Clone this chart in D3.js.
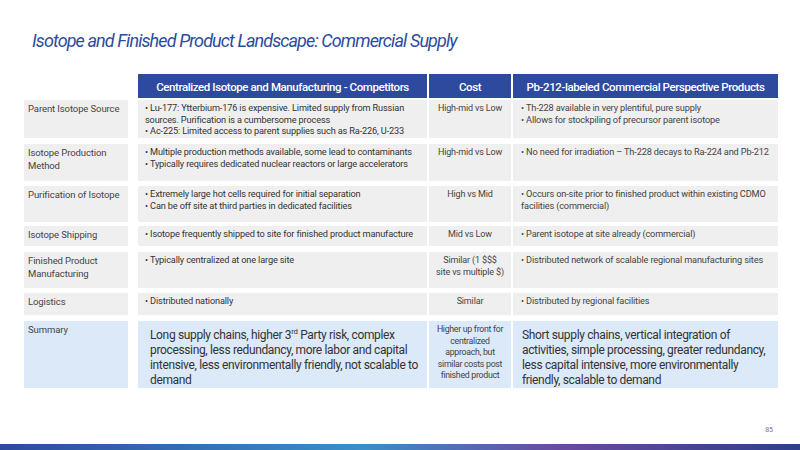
<!DOCTYPE html><html><head><meta charset="utf-8">
<script src="https://cdn.jsdelivr.net/npm/d3@7"></script>
<style>body{margin:0;background:#fff}svg{display:block}</style></head><body>
<script>
const title = "Isotope and Finished Product Landscape: Commercial Supply";
const headers = ["Centralized Isotope and Manufacturing - Competitors", "Cost", "Pb-212-labeled Commercial Perspective Products"];
const rowLabels = [["Parent Isotope Source"],["Isotope Production","Method"],["Purification of Isotope"],["Isotope Shipping"],["Finished Product","Manufacturing"],["Logistics"],["Summary"]];
const competitors = [
 ["• Lu-177: Ytterbium-176 is expensive. Limited supply from Russian","sources. Purification is a cumbersome process","• Ac-225: Limited access to parent supplies such as Ra-226, U-233"],
 ["• Multiple production methods available, some lead to contaminants","• Typically requires dedicated nuclear reactors or large accelerators"],
 ["• Extremely large hot cells required for initial separation","• Can be off site at third parties in dedicated facilities"],
 ["• Isotope frequently shipped to site for finished product manufacture"],
 ["• Typically centralized at one large site"],
 ["• Distributed nationally"],
 ["Long supply chains, higher 3^rd Party risk, complex","processing, less redundancy, more labor and capital","intensive, less environmentally friendly, not scalable to","demand"]];
const costs = [["High-mid vs Low"],["High-mid vs Low"],["High vs Mid"],["Mid vs Low"],["Similar (1 $$$","site vs multiple $)"],["Similar"],["Higher up front for","centralized","approach, but","similar costs post","finished product"]];
const pb212 = [
 ["• Th-228 available in very plentiful, pure supply","• Allows for stockpiling of precursor parent isotope"],
 ["• No need for irradiation – Th-228 decays to Ra-224 and Pb-212"],
 ["• Occurs on-site prior to finished product within existing CDMO","facilities (commercial)"],
 ["• Parent isotope at site already (commercial)"],
 ["• Distributed network of scalable regional manufacturing sites"],
 ["• Distributed by regional facilities"],
 ["Short supply chains, vertical integration of","activities, simple processing, greater redundancy,","less capital intensive, more environmentally","friendly, scalable to demand"]];
const rowTops=[100,144,186,226,252,293,321], rowBots=[138,181,222,246,288,315,388];

const svg=d3.select("body").append("svg").attr("width",800).attr("height",450);
const font="Roboto, Arial, sans-serif";
svg.append("text").attr("x",32).attr("y",47).text(title).attr("font-family",font).attr("font-style","italic")
 .attr("font-size",18).attr("fill","#2d4b9b").attr("letter-spacing",-0.9);
const cols=[{x:24,w:104},{x:138,w:289},{x:429,w:82},{x:513,w:265}];
headers.forEach((h,i)=>{const c=cols[i+1];
 svg.append("rect").attr("x",c.x).attr("y",74).attr("width",c.w).attr("height",24).attr("fill","#2e4a9e");
 svg.append("text").attr("x",c.x+c.w/2).attr("y",90.5).attr("text-anchor","middle").attr("fill","#fff")
  .attr("font-family",font).attr("font-size",11.5).attr("font-weight",500).attr("letter-spacing",-0.4).text(h);});
const y=d3.scaleLinear().domain([0,1]).range([0,1]);
function lines(g,arr,x,y0,lh,fs,anchor,color,ls){
 arr.forEach((l,j)=>{const t=g.append("text").attr("x",x).attr("y",y0+j*lh).attr("font-family",font).attr("font-size",fs)
  .attr("fill",color).attr("text-anchor",anchor).attr("letter-spacing",ls);
  const parts=l.split("^");
  if(parts.length>1){const [pre,rest]=parts;const sup=rest.slice(0,2);t.append("tspan").text(pre);
   t.append("tspan").text(sup).attr("font-size",fs*0.65).attr("dy",-fs*0.4);
   t.append("tspan").text(rest.slice(2)).attr("dy",fs*0.4);} else t.text(l);});
}
rowLabels.forEach((lab,i)=>{
 const s=i===6, top=y(rowTops[i]), h=rowBots[i]-rowTops[i];
 const fill=s?"#dce9f8":"#efefef";
 cols.forEach(c=>svg.append("rect").attr("x",c.x).attr("y",top).attr("width",c.w).attr("height",h).attr("fill",fill));
 lines(svg,lab,28,top+12,13,9.5,"start","#444",-0.1);
 if(s){
  lines(svg,competitors[i],150,top+18,15,12,"start","#333",-0.35);
  lines(svg,costs[i],470,top+11,11.5,8.8,"middle","#444",-0.3);
  lines(svg,pb212[i],522,top+18,15,12,"start","#333",-0.35);
 } else {
  lines(svg,competitors[i],145,top+11,11.5,9.2,"start","#333",-0.15);
  lines(svg,costs[i],470,top+11,11.5,9,"middle","#444",-0.15);
  lines(svg,pb212[i],521,top+11,11.5,9.2,"start","#444",-0.15);
 }
});
svg.append("text").attr("x",773).attr("y",432).attr("text-anchor","end").attr("font-family",font).attr("font-size",7).attr("fill","#777").text("85");
const grad=svg.append("defs").append("linearGradient").attr("id","g");
[["0%","#2e4a9e"],["45%","#3a8fc8"],["70%","#6a4aa0"],["100%","#2e3f8a"]].forEach(s=>grad.append("stop").attr("offset",s[0]).attr("stop-color",s[1]));
svg.append("rect").attr("x",0).attr("y",444).attr("width",800).attr("height",6).attr("fill","url(#g)");
</script></body></html>
